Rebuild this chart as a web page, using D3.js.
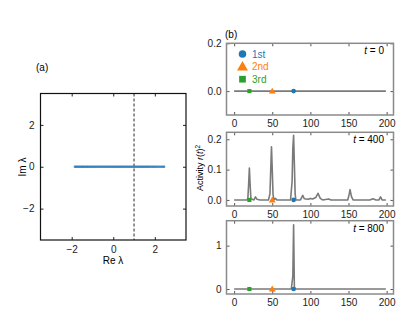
<!DOCTYPE html>
<html>
<head>
<meta charset="utf-8">
<script src="https://cdn.jsdelivr.net/npm/d3@7"></script>
<style>
  body { margin: 0; background: #fff; }
  svg { font-family: "Liberation Sans", Arial, sans-serif; }
</style>
</head>
<body>
<svg id="chart" width="415" height="321"></svg>
<script>
// eigenvalues on the real axis (panel a)
var reLambda = [-1.85, -1.81, -1.77, -1.72, -1.68, -1.63, -1.59, -1.54, -1.5, -1.45,
  -1.41, -1.36, -1.31, -1.26, -1.22, -1.17, -1.12, -1.07, -1.02, -0.97, -0.92, -0.87,
  -0.82, -0.77, -0.72, -0.67, -0.62, -0.57, -0.52, -0.47, -0.42, -0.37, -0.32, -0.27,
  -0.22, -0.17, -0.12, -0.07, -0.02, 0.03, 0.08, 0.13, 0.18, 0.23, 0.28, 0.33, 0.38,
  0.43, 0.48, 0.53, 0.58, 0.63, 0.68, 0.73, 0.78, 0.83, 0.88, 0.93, 0.98, 1.03, 1.08,
  1.13, 1.18, 1.23, 1.28, 1.33, 1.38, 1.43, 1.48, 1.53, 1.58, 1.63, 1.68, 1.73, 1.78,
  1.84, 1.89, 1.94, 2.0, 2.05, 2.11, 2.17, 2.23, 2.29, 2.35, 2.41, 2.45];
var imLambda = reLambda.map(function() { return 0; });
var axisTicksA = [-2, 0, 2];

// activity profiles (panel b), vertices of the curves
var act0 = [[0, 0], [199, 0]];
var act400 = [[0, 0], [17, 0], [18, 0.005], [19, 0.05], [20, 0.105], [21, 0.05], [22, 0.004],
  [26, 0], [28, 0.01], [30, 0.002], [34, 0], [45, 0], [47, 0.02], [48, 0.1], [49, 0.175],
  [50, 0.1], [51, 0.02], [52, 0], [54, 0.005], [56, 0], [74, 0], [76, 0.06], [77, 0.17],
  [78, 0.213], [79, 0.12], [80, 0.02], [81, 0], [87, 0], [90, 0.015], [92, 0.004], [97, 0.002],
  [100, 0.005], [103, 0.003], [107, 0.008], [110, 0.022], [113, 0.005], [116, 0], [124, 0.003],
  [127, 0], [149, 0], [151, 0.02], [152, 0.034], [154, 0.01], [156, 0], [178, 0], [182, 0.004],
  [186, 0], [190, 0], [192, 0.01], [194, 0], [199, 0]];
var act800 = [[0, 0], [75, 0], [77, 0.3], [78, 1.48], [79, 0.05], [80, 0], [199, 0]];

var neurons = ['1st', '2nd', '3rd'];
var neuronPos = [78, 50, 20];
var neuronColors = ['#1f77b4', '#ff7f0e', '#2ca02c'];
var times = ['0', '400', '800'];
var xTicksB = [0, 50, 100, 150, 200];

var svg = d3.select('#chart');

// ---- panel (a)
var xa = d3.scaleLinear().domain([-3.5, 3.5]).range([40.5, 186]);
var ya = d3.scaleLinear().domain([-3.5, 3.5]).range([240, 93.5]);
var ga = svg.append('g');

ga.append('g').attr('transform', 'translate(0,240)')
  .call(d3.axisBottom(xa).tickValues(axisTicksA).tickSizeInner(-3).tickSizeOuter(0).tickPadding(6)
    .tickFormat(function(d) { return d < 0 ? '\u2212' + Math.abs(d) : d; }));
ga.append('g').attr('transform', 'translate(0,93.5)')
  .call(d3.axisTop(xa).tickValues(axisTicksA).tickSizeInner(-3).tickSizeOuter(0).tickFormat(''));
ga.append('g').attr('transform', 'translate(40.5,0)')
  .call(d3.axisLeft(ya).tickValues(axisTicksA).tickSizeInner(-3).tickSizeOuter(0).tickPadding(6)
    .tickFormat(function(d) { return d < 0 ? '\u2212' + Math.abs(d) : d; }));
ga.append('g').attr('transform', 'translate(186,0)')
  .call(d3.axisRight(ya).tickValues(axisTicksA).tickSizeInner(-3).tickSizeOuter(0).tickFormat(''));
ga.selectAll('.domain').remove();
ga.selectAll('.tick text').attr('font-size', 10).attr('fill', '#222');
ga.selectAll('.tick line').attr('stroke', '#222');

ga.append('rect').attr('x', 40.5).attr('y', 93.5).attr('width', 145.5).attr('height', 146.5)
  .attr('fill', 'none').attr('stroke', '#111').attr('stroke-width', 1.2);

ga.append('line').attr('x1', xa(1)).attr('x2', xa(1)).attr('y1', 93.5).attr('y2', 240)
  .attr('stroke', '#111').attr('stroke-width', 0.9).attr('stroke-dasharray', '3,2');

ga.selectAll('circle.ev').data(reLambda).enter().append('circle')
  .attr('class', 'ev')
  .attr('cx', function(d) { return xa(d); })
  .attr('cy', function(d, i) { return ya(imLambda[i]); })
  .attr('r', 1.2).attr('fill', '#2b7bba').attr('opacity', 0.75);

ga.append('text').attr('x', 36).attr('y', 71).attr('font-size', 10).text('(a)');
ga.append('text').attr('x', 113).attr('y', 264).attr('text-anchor', 'middle').attr('font-size', 10)
  .text('Re \u03bb');
ga.append('text').attr('transform', 'translate(26,167) rotate(-90)').attr('text-anchor', 'middle')
  .attr('font-size', 10).text('Im \u03bb');

// ---- panel (b)
var xb = d3.scaleLinear().domain([-10, 209]).range([226.5, 393.5]);
var panels = [
  { data: act0, top: 43.3, bottom: 115, dom: [-0.1, 0.2], ticks: [0, 0.2], fmt: '.1f' },
  { data: act400, top: 132.3, bottom: 206, dom: [-0.02, 0.223], ticks: [0, 0.1, 0.2], fmt: '.1f' },
  { data: act800, top: 220.7, bottom: 294, dom: [-0.115, 1.575], ticks: [0, 1], fmt: 'd' }
];

var frameGray = '#8a8a8a';
var line = d3.line().x(function(d) { return xb(d[0]); });

var symbols = [d3.symbolCircle, d3.symbolTriangle, d3.symbolSquare];

panels.forEach(function(p, k) {
  var y = d3.scaleLinear().domain(p.dom).range([p.bottom, p.top]);
  var g = svg.append('g');

  g.append('g').attr('transform', 'translate(0,' + p.bottom + ')')
    .call(d3.axisBottom(xb).tickValues(xTicksB).tickSizeInner(-3).tickSizeOuter(0).tickPadding(5));
  g.append('g').attr('transform', 'translate(0,' + p.top + ')')
    .call(d3.axisTop(xb).tickValues(xTicksB).tickSizeInner(-3).tickSizeOuter(0).tickFormat(''));
  g.append('g').attr('transform', 'translate(226.5,0)')
    .call(d3.axisLeft(y).tickValues(p.ticks).tickSizeInner(-3).tickSizeOuter(0).tickPadding(5)
      .tickFormat(d3.format(p.fmt)));
  g.append('g').attr('transform', 'translate(393.5,0)')
    .call(d3.axisRight(y).tickValues(p.ticks).tickSizeInner(-3).tickSizeOuter(0).tickFormat(''));
  g.selectAll('.domain').remove();
  g.selectAll('.tick text').attr('font-size', 10).attr('fill', '#222');
  g.selectAll('.tick line').attr('stroke', '#555');

  g.append('rect').attr('x', 226.5).attr('y', p.top).attr('width', 393.5 - 226.5)
    .attr('height', p.bottom - p.top)
    .attr('fill', 'none').attr('stroke', frameGray).attr('stroke-width', 1.5);

  g.append('path').datum(p.data)
    .attr('d', line.y(function(d) { return y(d[1]); }))
    .attr('fill', 'none').attr('stroke', '#7a7a7a').attr('stroke-width', 1.6)
    .attr('stroke-linejoin', 'round');

  neuronPos.forEach(function(n, i) {
    g.append('path')
      .attr('d', d3.symbol().type(symbols[i]).size(i === 1 ? 20 : 17)())
      .attr('transform', 'translate(' + xb(n) + ',' + (y(0) + (i === 1 ? 0.5 : 0)) + ')')
      .attr('fill', neuronColors[i]);
  });

  g.append('text').attr('x', 384).attr('y', p.top + 11).attr('text-anchor', 'end')
    .attr('font-size', 10)
    .html('<tspan font-style="italic">t</tspan> = ' + times[k]);

  if (k === 0) {
    neurons.forEach(function(name, i) {
      var ly = 54 + i * 12.6;
      g.append('path')
        .attr('d', d3.symbol().type(symbols[i]).size(i === 1 ? 52 : 45)())
        .attr('transform', 'translate(242.5,' + (ly + (i === 1 ? 0.8 : 0)) + ')')
        .attr('fill', neuronColors[i]);
      g.append('text').attr('x', 252).attr('y', ly + 3.6).attr('font-size', 10)
        .attr('fill', neuronColors[i]).text(name);
    });
  }
});

svg.append('text').attr('x', 225).attr('y', 38).attr('font-size', 10).text('(b)');
svg.append('text').attr('transform', 'translate(203,168) rotate(-90)').attr('text-anchor', 'middle')
  .attr('font-size', 9)
  .html('Activity <tspan font-style="italic">r</tspan>(<tspan font-style="italic">t</tspan>)<tspan font-size="6.5" dy="-3">2</tspan>');
</script>
</body>
</html>
